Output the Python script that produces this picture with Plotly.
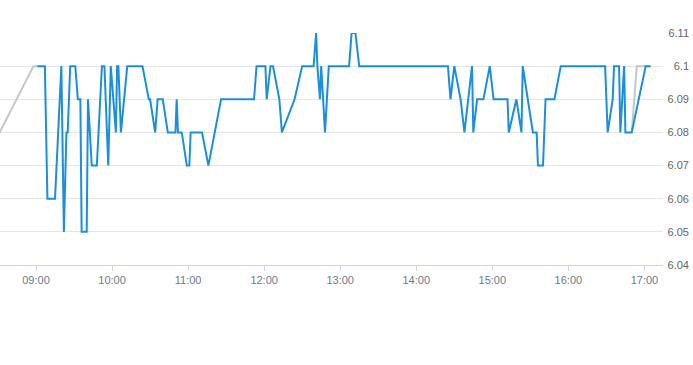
import plotly.graph_objects as go

DAY = "2024-01-02 "

price_times = [
    "09:01", "09:07", "09:09", "09:15", "09:20", "09:22", "09:24", "09:25", "09:27", "09:31",
    "09:33", "09:35", "09:36", "09:40", "09:41", "09:44", "09:48", "09:52", "09:54", "09:57",
    "09:59", "10:03", "10:04", "10:05", "10:07", "10:12", "10:24", "10:29", "10:30", "10:34",
    "10:36", "10:40", "10:44", "10:50", "10:51", "10:52", "10:55", "10:59", "11:01", "11:02",
    "11:11", "11:16", "11:26", "11:52", "11:54", "12:01", "12:02", "12:05", "12:07", "12:12",
    "12:14", "12:24", "12:30", "12:39", "12:41", "12:42", "12:44", "12:45", "12:48", "12:51",
    "13:07", "13:09", "13:12", "13:15", "14:25", "14:27", "14:30", "14:35", "14:38", "14:44",
    "14:45", "14:48", "14:53", "14:58", "15:01", "15:12", "15:13", "15:19", "15:23", "15:24",
    "15:32", "15:35", "15:36", "15:40", "15:42", "15:49", "15:54", "16:29", "16:31", "16:35",
    "16:36", "16:40", "16:41", "16:44", "16:45", "16:50", "17:01", "17:05",
]
price_values = [
    6.10, 6.10, 6.06, 6.06, 6.10, 6.05, 6.08, 6.08, 6.10, 6.10,
    6.09, 6.09, 6.05, 6.05, 6.09, 6.07, 6.07, 6.10, 6.10, 6.07,
    6.10, 6.08, 6.10, 6.10, 6.08, 6.10, 6.10, 6.09, 6.09, 6.08,
    6.09, 6.09, 6.08, 6.08, 6.09, 6.08, 6.08, 6.07, 6.07, 6.08,
    6.08, 6.07, 6.09, 6.09, 6.10, 6.10, 6.09, 6.10, 6.10, 6.09,
    6.08, 6.09, 6.10, 6.10, 6.11, 6.10, 6.09, 6.10, 6.08, 6.10,
    6.10, 6.11, 6.11, 6.10, 6.10, 6.09, 6.10, 6.09, 6.08, 6.10,
    6.08, 6.09, 6.09, 6.10, 6.09, 6.09, 6.08, 6.09, 6.08, 6.10,
    6.08, 6.08, 6.07, 6.07, 6.09, 6.09, 6.10, 6.10, 6.08, 6.09,
    6.10, 6.10, 6.08, 6.10, 6.08, 6.08, 6.10, 6.10,
]

ext_times = ["08:30", "08:58", "09:01", None, "16:50", "16:54", "17:01"]
ext_values = [6.079, 6.10, 6.10, None, 6.08, 6.10, 6.10]

y_ticks = [6.04, 6.05, 6.06, 6.07, 6.08, 6.09, 6.10, 6.11]
y_tick_labels = ["6.04", "6.05", "6.06", "6.07", "6.08", "6.09", "6.1", "6.11"]
x_start, x_end = "08:31:36", "17:14:40"
y_min, y_max = 6.04, 6.11

# layout geometry (pixels)
W, H = 693, 365
plot_top, plot_bottom, plot_right = 33, 265, 663
pad = 10
per_px = (y_max - y_min) / (plot_bottom - plot_top)

fig = go.Figure()
fig.add_trace(go.Scatter(
    x=[DAY + t if t else None for t in ext_times], y=ext_values,
    mode="lines", line=dict(color="#c3c7cc", width=2), connectgaps=False,
    hoverinfo="skip", showlegend=False))
fig.add_trace(go.Scatter(
    x=[DAY + t for t in price_times], y=price_values,
    mode="lines", line=dict(color="#1a8fe0", width=2), showlegend=False))
# invisible helper trace so the label-only axis pair is drawn
fig.add_trace(go.Scatter(
    x=[0], y=[y_ticks[0]], xaxis="x2", yaxis="y2", mode="markers",
    marker=dict(opacity=0), hoverinfo="skip", showlegend=False))

fig.update_layout(
    template="none",
    width=W, height=H,
    margin=dict(l=0, r=0, t=0, b=0),
    paper_bgcolor="white", plot_bgcolor="rgba(0,0,0,0)",
    font=dict(family="Liberation Sans, Arial, sans-serif", size=11, color="#666666"),
    xaxis=dict(
        type="date", domain=[0, plot_right / W], anchor="y", automargin=False,
        range=[DAY + x_start, DAY + x_end],
        tick0=DAY + "09:00", dtick=3600000, tickformat="%H:%M",
        ticks="outside", ticklen=5, tickcolor="#ccd6eb", tickwidth=1,
        showline=True, linecolor="#ccd6eb", linewidth=1,
        showgrid=False, zeroline=False,
        tickfont=dict(color="#6d7a89", size=11),
    ),
    yaxis=dict(
        range=[y_min, y_max], anchor="x", automargin=False,
        domain=[(H - plot_bottom) / H, (H - plot_top) / H],
        tickvals=y_ticks, showticklabels=False, ticks="",
        showgrid=True, gridcolor="#e6e6e6", gridwidth=1,
        zeroline=False, showline=False,
    ),
    xaxis2=dict(
        domain=[0, 1], anchor="y2", range=[0, 1], visible=False, automargin=False,
    ),
    yaxis2=dict(
        range=[y_min - pad * per_px, y_max + pad * per_px], anchor="x2", side="right",
        domain=[(H - plot_bottom - pad) / H, (H - plot_top + pad) / H],
        automargin=False,
        tickvals=y_ticks, ticktext=y_tick_labels,
        ticklabelposition="inside", ticks="", ticklabelstandoff=1,
        showgrid=False, zeroline=False, showline=False,
        tickfont=dict(color="#666666", size=11),
    ),
)

fig.write_html(
    "out.html",
    config={"displayModeBar": False},
    post_script="document.body.style.margin='0px';document.body.style.padding='0px';",
)
